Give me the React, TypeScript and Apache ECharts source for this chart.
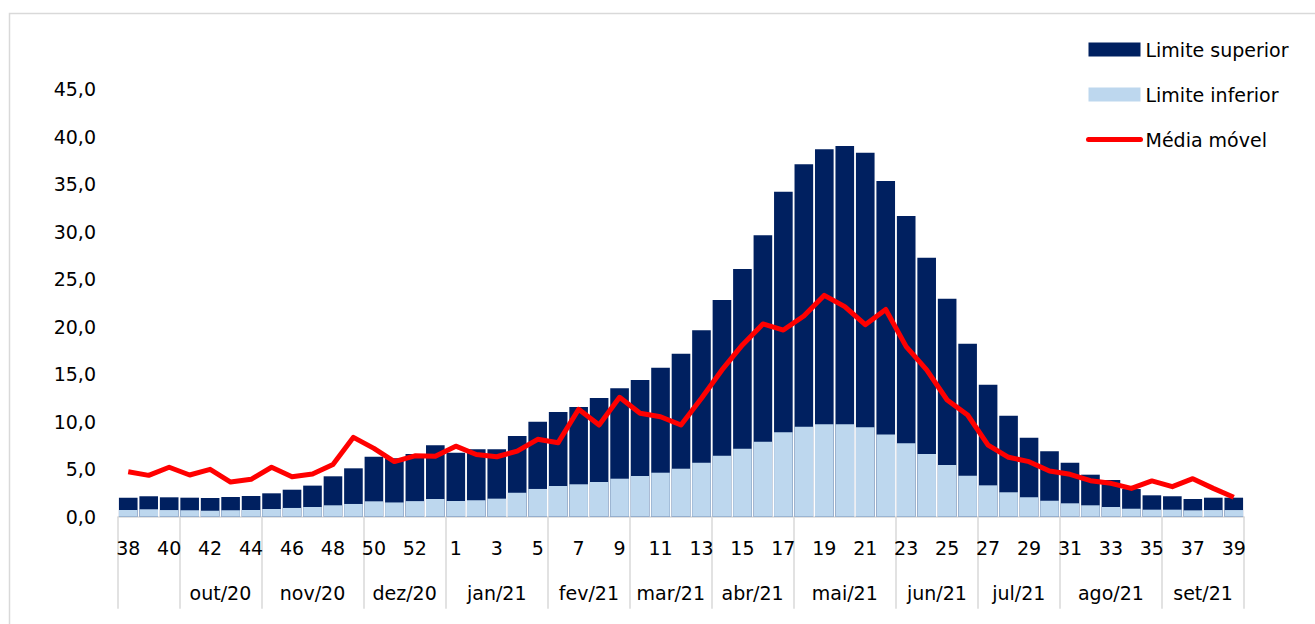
import { useEffect, useRef } from 'react';
import * as echarts from 'echarts';

const weeks: string[] = [
  '38', '39', '40', '41', '42', '43', '44', '45', '46', '47', '48', '49', '50', '51', '52', '53',
  '1', '2', '3', '4', '5', '6', '7', '8', '9', '10', '11', '12', '13', '14', '15', '16', '17', '18', '19', '20',
  '21', '22', '23', '24', '25', '26', '27', '28', '29', '30', '31', '32', '33', '34', '35', '36', '37', '38', '39',
];

const upperLimit: number[] = [
  2.0, 2.15, 2.04, 2.0, 1.97, 2.07, 2.18, 2.46, 2.84, 3.27, 4.25, 5.09, 6.31, 6.14, 6.6, 7.51,
  6.73, 7.09, 7.09, 8.49, 10.0, 11.02, 11.54, 12.49, 13.51, 14.38, 15.68, 17.15, 19.61, 22.8, 26.06,
  29.6, 34.2, 37.08, 38.66, 39.0, 38.3, 35.33, 31.65, 27.25, 22.94, 18.2, 13.89, 10.63, 8.31, 6.88,
  5.68, 4.42, 3.86, 2.91, 2.25, 2.15, 1.86, 2.0, 2.0,
];

const lowerLimit: number[] = [
  0.7, 0.78, 0.7, 0.68, 0.63, 0.68, 0.7, 0.81, 0.92, 1.02, 1.2, 1.34, 1.62, 1.5, 1.64, 1.86,
  1.65, 1.73, 1.9, 2.53, 2.92, 3.23, 3.41, 3.65, 4.0, 4.28, 4.63, 5.05, 5.68, 6.42, 7.15,
  7.89, 8.88, 9.47, 9.72, 9.72, 9.41, 8.65, 7.72, 6.6, 5.44, 4.31, 3.3, 2.57, 2.04, 1.68,
  1.41, 1.2, 1.02, 0.84, 0.74, 0.74, 0.67, 0.7, 0.7,
];

const movingAverage: number[] = [
  4.73, 4.35, 5.2, 4.39, 4.98, 3.65, 3.93, 5.2, 4.21, 4.49, 5.5, 8.35, 7.19, 5.8, 6.4, 6.35,
  7.42, 6.55, 6.31, 6.9, 8.14, 7.79, 11.3, 9.65, 12.56, 10.88, 10.52, 9.65, 12.46, 15.44, 18.07,
  20.28, 19.64, 21.12, 23.29, 22.1, 20.2, 21.8, 17.89, 15.44, 12.28, 10.7, 7.54, 6.25, 5.79, 4.81,
  4.46, 3.79, 3.51, 2.98, 3.76, 3.16, 4.0, 2.98, 2.04,
];

const monthLabels: string[] = [
  '', 'out/20', 'nov/20', 'dez/20', 'jan/21', 'fev/21', 'mar/21', 'abr/21', 'mai/21', 'jun/21', 'jul/21', 'ago/21', 'set/21',
];
const monthWeekCounts: number[] = [3, 4, 5, 4, 5, 4, 4, 4, 5, 4, 4, 5, 4];

const yMax = 45;
const yInterval = 5;

const FONT = 'DejaVu Sans';

export default function App() {
  const ref = useRef<HTMLDivElement>(null);

  useEffect(() => {
    document.body.style.margin = '0';
    const el = ref.current;
    if (!el) return;
    const chart = echarts.init(el, null, { renderer: 'svg' });

    const bounds: number[] = [0];
    monthWeekCounts.forEach((c) => bounds.push(bounds[bounds.length - 1] + c));
    const centers: number[] = [];
    const centerLabels: string[] = [];
    monthWeekCounts.forEach((c, i) => {
      if (monthLabels[i]) {
        centers.push(bounds[i] + c / 2);
        centerLabels.push(monthLabels[i]);
      }
    });

    chart.setOption({
      animation: false,
      backgroundColor: '#ffffff',
      textStyle: { fontFamily: FONT },
      graphic: [
        {
          type: 'rect',
          left: 7,
          top: 11,
          z: -10,
          silent: true,
          shape: { width: 1330, height: 640 },
          style: { fill: 'none', stroke: '#d9d9d9', lineWidth: 1.5 },
        },
      ],
      legend: {
        orient: 'vertical',
        left: 1086,
        top: 40,
        padding: 0,
        itemWidth: 52,
        itemHeight: 14,
        itemGap: 26,
        textStyle: { fontFamily: FONT, fontSize: 19, color: '#000000' },
        data: [
          { name: 'Limite superior', icon: 'rect' },
          { name: 'Limite inferior', icon: 'rect' },
          { name: 'Média móvel', itemStyle: { opacity: 0 }, lineStyle: { width: 5, cap: 'round' } },
        ],
      },
      grid: { left: 118, right: 71, top: 89, bottom: 107.3, containLabel: false },
      xAxis: [
        {
          type: 'category',
          data: weeks,
          boundaryGap: true,
          axisLine: { show: true, lineStyle: { color: '#d9d9d9', width: 1.5 } },
          axisTick: { show: false },
          axisLabel: {
            interval: 1,
            margin: 22,
            fontFamily: FONT,
            fontSize: 19,
            color: '#000000',
          },
          splitLine: { show: false },
        },
        {
          type: 'value',
          position: 'bottom',
          min: 0,
          max: weeks.length,
          axisLine: { show: false },
          splitLine: { show: false },
          axisTick: {
            show: true,
            customValues: bounds,
            length: 92,
            lineStyle: { color: '#d9d9d9', width: 1.5 },
          },
          axisLabel: {
            customValues: centers,
            margin: 67,
            fontFamily: FONT,
            fontSize: 19,
            color: '#000000',
            formatter: (v: number) => {
              const i = centers.findIndex((c) => Math.abs(c - v) < 1e-6);
              return i >= 0 ? centerLabels[i] : '';
            },
          },
        },
      ],
      yAxis: {
        type: 'value',
        min: 0,
        max: yMax,
        interval: yInterval,
        axisLine: { show: false },
        axisTick: { show: false },
        splitLine: { show: false },
        axisLabel: {
          margin: 22,
          fontFamily: FONT,
          fontSize: 19,
          color: '#000000',
          formatter: (v: number) => v.toFixed(1).replace('.', ','),
        },
      },
      series: [
        {
          name: 'Limite superior',
          type: 'bar',
          xAxisIndex: 0,
          data: upperLimit,
          barCategoryGap: '9%',
          barGap: '-100%',
          itemStyle: { color: '#002060' },
        },
        {
          name: 'Limite inferior',
          type: 'bar',
          xAxisIndex: 0,
          data: lowerLimit,
          barCategoryGap: '9%',
          barGap: '-100%',
          itemStyle: { color: '#bdd7ee' },
        },
        {
          name: 'Média móvel',
          type: 'line',
          xAxisIndex: 0,
          data: movingAverage,
          symbol: 'none',
          smooth: false,
          z: 5,
          lineStyle: { color: '#ff0000', width: 5, join: 'round' },
          itemStyle: { color: '#ff0000' },
        },
      ],
    });

    return () => {
      chart.dispose();
    };
  }, []);

  return <div ref={ref} style={{ width: 1315, height: 624 }} />;
}
